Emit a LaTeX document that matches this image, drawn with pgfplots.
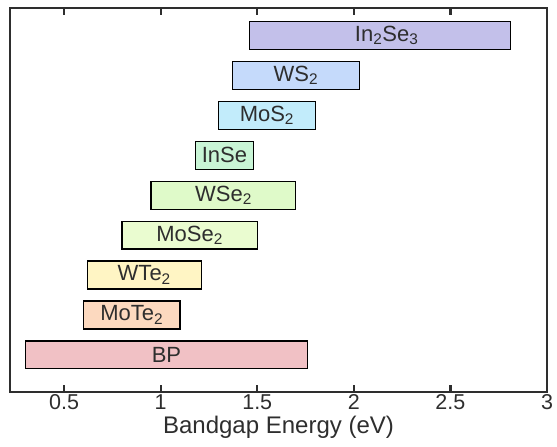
\documentclass[border=0pt]{standalone}
\usepackage{pgfplots}
\pgfplotsset{compat=1.18}
\usepackage{fontspec}
\setmainfont{Liberation Sans}
\definecolor{axgray}{HTML}{2E2E2E}
\definecolor{cInSe3}{HTML}{C3C0EA}
\definecolor{cWS}{HTML}{C5DAFB}
\definecolor{cMoS}{HTML}{C2ECFB}
\definecolor{cInSe}{HTML}{C9F5D6}
\definecolor{cWSe}{HTML}{DFFAC9}
\definecolor{cMoSe}{HTML}{EAFCD0}
\definecolor{cWTe}{HTML}{FFF5C4}
\definecolor{cMoTe}{HTML}{FCD9BF}
\definecolor{cBP}{HTML}{F1C1C5}
\begin{document}
\begin{tikzpicture}
\begin{axis}[
  scale only axis,
  width=537pt, height=384pt,
  xmin=0.22, xmax=3.0,
  ymin=0.07, ymax=9.69,
  xtick={0.5,1,1.5,2,2.5,3},
  xticklabels={0.5,1,1.5,2,2.5,3},
  ytick=\empty,
  xtick pos=both,
  xtick align=inside,
  major tick length=7pt,
  axis line style={draw=axgray, line width=2.2pt},
  xtick style={draw=axgray, line width=2.2pt},
  ticklabel style={font=\fontsize{21.5}{24}\selectfont, text=axgray},
  xticklabel style={yshift=1pt},
  xlabel={Bandgap Energy (eV)},
  xlabel style={font=\fontsize{24}{28}\selectfont, text=axgray, yshift=1pt},
  /pgf/number format/assume math mode=true,
  clip=false,
]
\addplot[draw=black, line width=1.2pt, fill=cBP] coordinates {(0.30,0.65) (1.76,0.65) (1.76,1.35) (0.30,1.35)} -- cycle;
\addplot[draw=black, line width=1.2pt, fill=cMoTe] coordinates {(0.60,1.65) (1.10,1.65) (1.10,2.35) (0.60,2.35)} -- cycle;
\addplot[draw=black, line width=1.2pt, fill=cWTe] coordinates {(0.62,2.65) (1.21,2.65) (1.21,3.35) (0.62,3.35)} -- cycle;
\addplot[draw=black, line width=1.2pt, fill=cMoSe] coordinates {(0.80,3.65) (1.50,3.65) (1.50,4.35) (0.80,4.35)} -- cycle;
\addplot[draw=black, line width=1.2pt, fill=cWSe] coordinates {(0.95,4.65) (1.70,4.65) (1.70,5.35) (0.95,5.35)} -- cycle;
\addplot[draw=black, line width=1.2pt, fill=cInSe] coordinates {(1.18,5.65) (1.48,5.65) (1.48,6.35) (1.18,6.35)} -- cycle;
\addplot[draw=black, line width=1.2pt, fill=cMoS] coordinates {(1.30,6.65) (1.80,6.65) (1.80,7.35) (1.30,7.35)} -- cycle;
\addplot[draw=black, line width=1.2pt, fill=cWS] coordinates {(1.37,7.65) (2.03,7.65) (2.03,8.35) (1.37,8.35)} -- cycle;
\addplot[draw=black, line width=1.2pt, fill=cInSe3] coordinates {(1.46,8.65) (2.81,8.65) (2.81,9.35) (1.46,9.35)} -- cycle;
\begin{scope}[every node/.style={font=\fontsize{22}{26}\selectfont, text=axgray, inner sep=0pt}]
\node at (axis cs:1.03,1) {BP};
\node at (axis cs:0.85,2) {MoTe\textsubscript{2}};
\node at (axis cs:0.915,3) {WTe\textsubscript{2}};
\node at (axis cs:1.15,4) {MoSe\textsubscript{2}};
\node at (axis cs:1.325,5) {WSe\textsubscript{2}};
\node at (axis cs:1.33,6) {InSe};
\node at (axis cs:1.55,7) {MoS\textsubscript{2}};
\node at (axis cs:1.70,8) {WS\textsubscript{2}};
\node at (axis cs:2.17,9) {In\textsubscript{2}Se\textsubscript{3}};
\end{scope}
\end{axis}
\path[use as bounding box] ([shift={(-10pt,-55pt)}]current axis.south west) rectangle ([shift={(10pt,8pt)}]current axis.north east);
\end{tikzpicture}
\end{document}
